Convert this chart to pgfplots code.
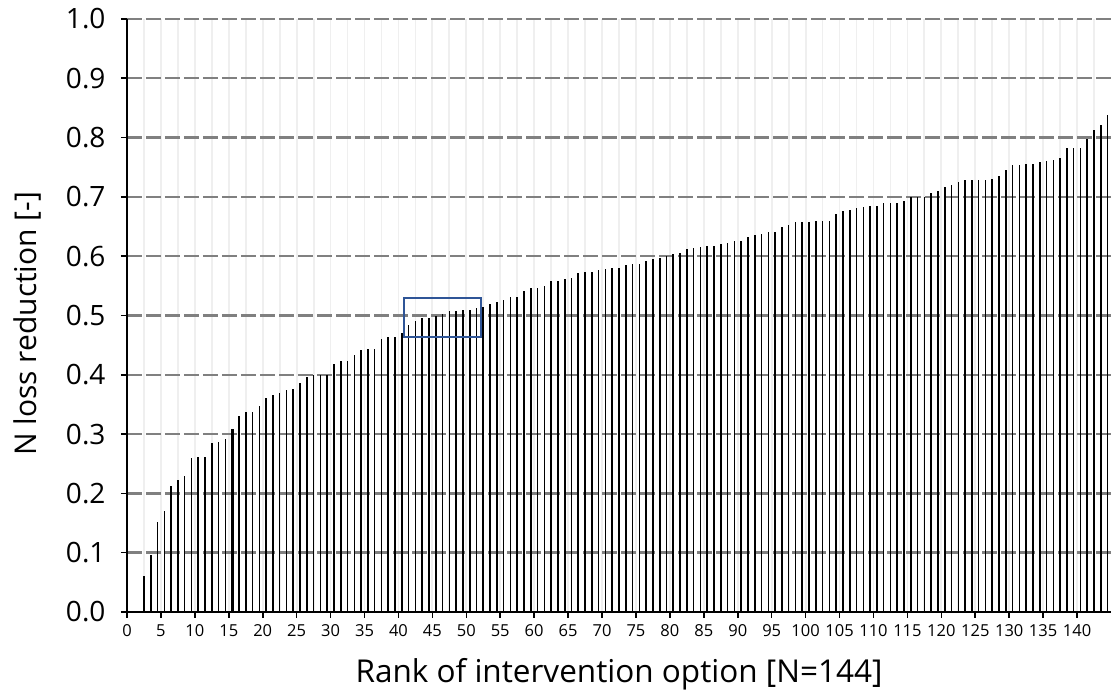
\documentclass[border=0pt]{standalone}
\usepackage{fontspec}
\setmainfont{Open Sans}
\usepackage{pgfplots}
\usepackage{pgfplotstable}
\pgfplotsset{compat=1.18}
\definecolor{gridgray}{HTML}{808080}
\definecolor{vgrid}{HTML}{EFEFEF}
\definecolor{boxblue}{HTML}{2F5597}
\pgfplotstableread{
rank val
1 0.000
2 0.060
3 0.096
4 0.151
5 0.170
6 0.213
7 0.223
8 0.230
9 0.259
10 0.261
11 0.261
12 0.285
13 0.287
14 0.292
15 0.309
16 0.330
17 0.338
18 0.338
19 0.347
20 0.361
21 0.366
22 0.369
23 0.374
24 0.376
25 0.386
26 0.396
27 0.399
28 0.400
29 0.400
30 0.419
31 0.424
32 0.424
33 0.433
34 0.442
35 0.443
36 0.443
37 0.460
38 0.463
39 0.463
40 0.470
41 0.484
42 0.491
43 0.496
44 0.496
45 0.499
46 0.503
47 0.508
48 0.508
49 0.510
50 0.510
51 0.513
52 0.515
53 0.520
54 0.523
55 0.526
56 0.532
57 0.532
58 0.542
59 0.546
60 0.547
61 0.549
62 0.559
63 0.559
64 0.562
65 0.564
66 0.571
67 0.573
68 0.573
69 0.576
70 0.578
71 0.580
72 0.580
73 0.585
74 0.587
75 0.587
76 0.592
77 0.596
78 0.597
79 0.601
80 0.604
81 0.606
82 0.612
83 0.613
84 0.616
85 0.618
86 0.618
87 0.621
88 0.623
89 0.626
90 0.626
91 0.633
92 0.635
93 0.637
94 0.640
95 0.640
96 0.650
97 0.652
98 0.657
99 0.657
100 0.657
101 0.659
102 0.659
103 0.659
104 0.671
105 0.676
106 0.678
107 0.681
108 0.683
109 0.685
110 0.685
111 0.690
112 0.690
113 0.690
114 0.693
115 0.699
116 0.700
117 0.699
118 0.707
119 0.710
120 0.717
121 0.720
122 0.725
123 0.729
124 0.729
125 0.729
126 0.729
127 0.731
128 0.736
129 0.745
130 0.753
131 0.753
132 0.755
133 0.755
134 0.758
135 0.761
136 0.762
137 0.765
138 0.782
139 0.782
140 0.782
141 0.797
142 0.813
143 0.821
144 0.838
}\datatable
\pgfplotstableread{
rank val
15 0.309
}\hltable
\begin{document}
\begin{tikzpicture}
\useasboundingbox (-127pt,-83pt) rectangle (984pt,612pt);
\begin{axis}[
  at={(0pt,0pt)}, anchor=south west,
  scale only axis, width=984pt, height=593pt,
  xmin=0, xmax=145, ymin=0, ymax=1,
  axis x line*=bottom, axis y line*=left,
  x axis line style={line width=1.8pt, black},
  y axis line style={line width=2.4pt, black},
  xtick={0,5,...,140},
  minor xtick={2.5,7.5,...,142.5},
  ytick={0,0.1,...,1.0},
  tick align=outside,
  major tick length=6pt, minor tick length=0pt,
  tick style={black, line width=1.6pt},
  xmajorgrids, xminorgrids, ymajorgrids,
  major x grid style={vgrid, line width=1.8pt},
  minor x grid style={vgrid, line width=1.8pt},
  major y grid style={gridgray, line width=2.4pt, dash pattern=on 15pt off 4pt},
  /pgf/number format/assume math mode=true,
  yticklabel style={/pgf/number format/fixed, /pgf/number format/fixed zerofill, /pgf/number format/precision=1, font=\fontsize{28}{32}\selectfont, xshift=-12pt},
  xticklabel style={font=\fontsize{16.5}{20}\selectfont, yshift=-3.5pt},
  xlabel={Rank of intervention option [N=144]},
  ylabel={N loss reduction [-]},
  every axis x label/.style={at={(axis description cs:0.5,-0.1197)}, anchor=base, font=\fontsize{31.5}{36}\selectfont},
  every axis y label/.style={at={(axis description cs:-0.1016,0.486)}, anchor=center, rotate=90, font=\fontsize{30}{34}\selectfont},
]
\addplot[ycomb, black, line width=1.6pt, mark=none] table[x expr=\thisrow{rank}+0.5, y=val] {\datatable};
\addplot[ycomb, black, line width=3pt, mark=none] table[x expr=\thisrow{rank}+0.5, y=val] {\hltable};
\draw[boxblue, line width=2pt] (axis cs:40.75,0.464) rectangle (axis cs:52.2,0.530);
\end{axis}
\end{tikzpicture}
\end{document}
